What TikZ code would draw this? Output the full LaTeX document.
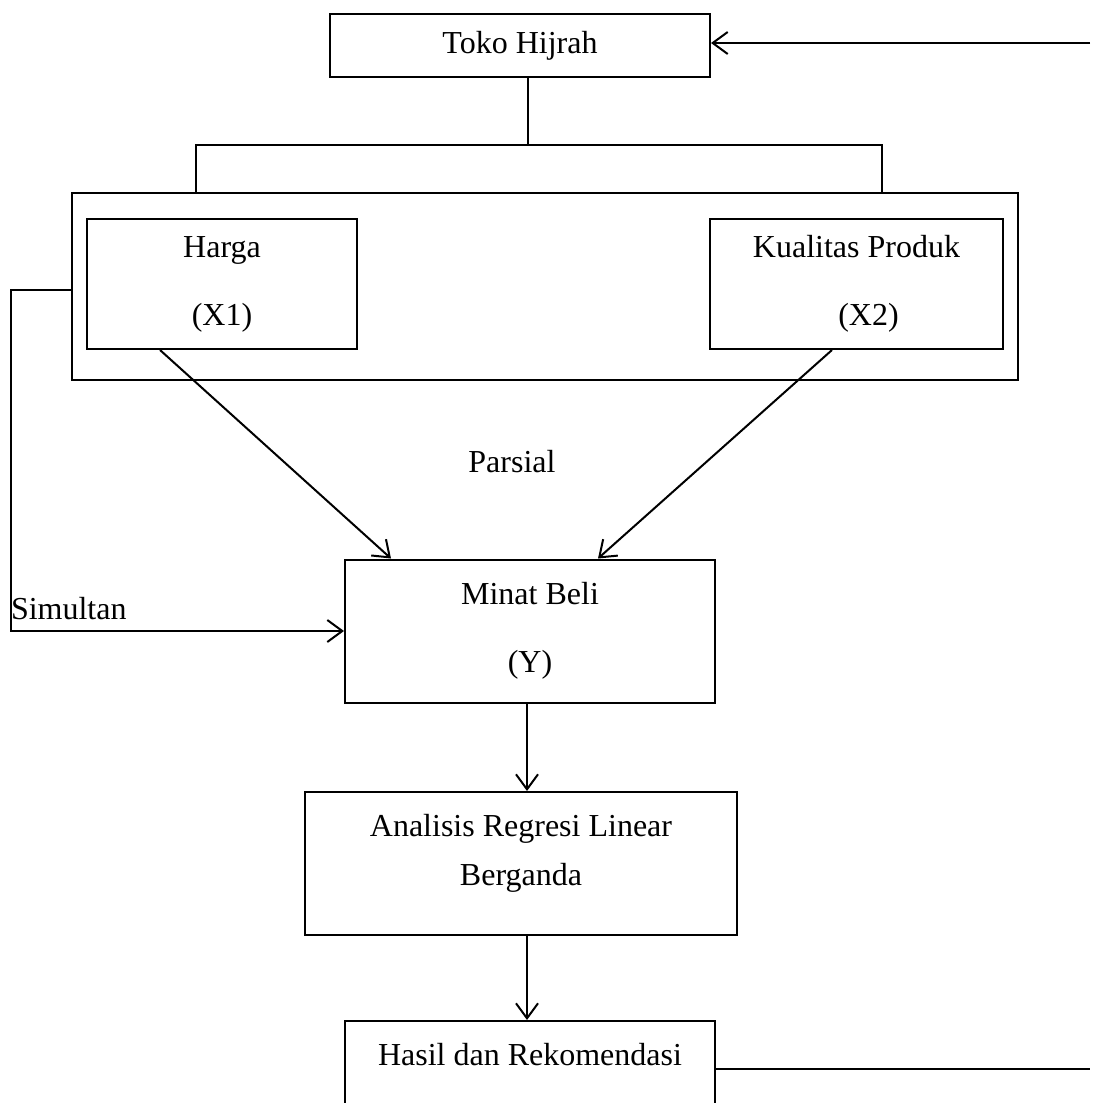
\documentclass[tikz,border=0pt]{standalone}
\usepackage{fontspec}
\setmainfont{Liberation Serif}
\usetikzlibrary{arrows.meta,calc}

\begin{document}
\begin{tikzpicture}[
  x=0.5pt,y=-0.5pt,
  >={Straight Barb[length=7.5pt,width=11pt]},
  line width=1pt,
  box/.style={draw,line width=1pt,align=center,inner sep=0pt,font=\fontsize{16}{34}\selectfont},
  txt/.style={inner sep=0pt,font=\fontsize{16}{20}\selectfont}
]
  \clip (0,0) rectangle (1097,1103);
  % top
  \node[box,minimum width=190pt,minimum height=31.5pt] (toko) at (520,45.5) {Toko Hijrah};
  \coordinate (back) at (1090,43);
  \coordinate (split) at (528,145);
  \coordinate (bl) at (196,145);
  \coordinate (br) at (882,145);
  % variables
  \node[draw,minimum width=473pt,minimum height=93.5pt] (outer) at (545,286.5) {};
  \node[box,minimum width=135pt,minimum height=65pt] (harga) at (222,284) {Harga\\(X1)};
  \node[box,minimum width=146.5pt,minimum height=65pt] (kualitas) at (856.5,284) {Kualitas Produk\\\hspace*{12pt}(X2)};
  \node[txt] (parsial) at (512,462) {Parsial};
  \node[txt,anchor=base west] (simultan) at (10,619) {Simultan};
  % lower chain
  \node[box,minimum width=185pt,minimum height=71.5pt] (minat) at (530,631) {Minat Beli\\(Y)};
  \node[box,minimum width=216pt,minimum height=71.5pt,font=\fontsize{16}{24.5}\selectfont] (analisis) at (521,863.5) {Analisis Regresi Linear\\Berganda\\[-10.5pt]\mbox{}};
  \node[box,minimum width=185pt,minimum height=48pt,font=\fontsize{16}{24}\selectfont] (hasil) at (530,1069) {Hasil dan Rekomendasi\\[-9pt]\mbox{}};
  \coordinate (fb) at (1090,1069);

  \draw[->] (back) -- (back -| toko.east);
  \draw (toko.south -| split) -- (split);
  \draw (bl |- outer.north) -- (bl) -- (br) -- (br |- outer.north);
  \draw[->] ($(harga.south)+(-62,0)$) -- ($(minat.north west)+(47,0)$);
  \draw[->] ($(kualitas.south)+(-24.5,0)$) -- ($(minat.north)+(68,0)$);
  \draw[->] ($(outer.west)+(0,3)$) -- ++(-60,0) |- (minat.west);
  \draw[->] (minat.south -| 527,0) -- (analisis.north -| 527,0);
  \draw[->] (analisis.south -| 527,0) -- (hasil.north -| 527,0);
  \draw (hasil.east) -- (fb);
\end{tikzpicture}
\end{document}
